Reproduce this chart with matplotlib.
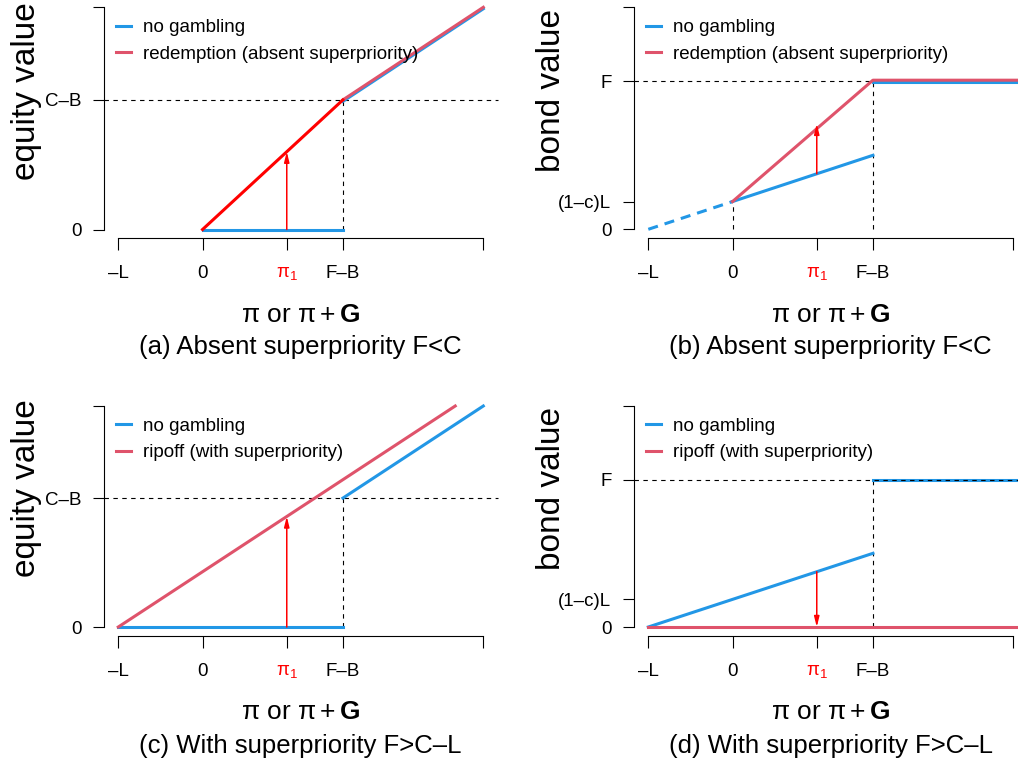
import matplotlib
matplotlib.use("Agg")
import matplotlib.pyplot as plt
from matplotlib.patches import FancyArrowPatch

plt.rcParams['font.family'] = ['Liberation Sans', 'DejaVu Sans']
plt.rcParams['mathtext.fontset'] = 'custom'
plt.rcParams['mathtext.rm'] = 'Liberation Sans'
plt.rcParams['mathtext.it'] = 'Liberation Sans:italic'
plt.rcParams['mathtext.bf'] = 'Liberation Sans:bold'

BLUE = '#2297E6'
PINK = '#DF536B'
RED = '#FF0000'

# ---- data ----
x_ticks = [-3, 0, 3, 5, 10]
x_ticklabels = ['\u2013L', '0', r'$\mathrm{\pi}_1$', 'F\u2013B', '']
x_min, x_max = -3, 10
y_min, y_max = 0, 12
pi1 = 3
FB = 5
CB = 7          # C-B
Fv = 8          # F
rec = 1.5       # (1-c)L

eq_yticks = [0, CB, 12]
eq_yticklabels = ['0', 'C\u2013B', '']
bd_yticks = [0, rec, Fv, 12]
bd_yticklabels = ['0', '(1\u2013c)L', 'F', '']

# panel a
a_blue1_x, a_blue1_y = [0, 5], [0, 0]
a_blue2_x, a_blue2_y = [5, 10], [6.92, 11.92]
a_red1_x, a_red1_y = [0, 5], [0, 7]
a_red2_x, a_red2_y = [5, 10], [7, 12]
a_arrow = (0, 4.2)

# panel b
b_blue_dash_x, b_blue_dash_y = [-3, 0], [0, 1.5]
b_blue1_x, b_blue1_y = [0, 5], [1.5, 4]
b_blue2_x, b_blue2_y = [5, 10.6], [7.94, 7.94]
b_red_x, b_red_y = [0, 5, 10.6], [1.5, 8.06, 8.06]
b_arrow = (3, 5.7)

# panel c
c_blue1_x, c_blue1_y = [-3, 5], [0, 0]
c_blue2_x, c_blue2_y = [5, 10], [7, 12]
c_red_x, c_red_y = [-3, 9], [0, 12]
c_arrow = (0, 6)

# panel d
d_blue1_x, d_blue1_y = [-3, 5], [0, 4]
d_blue2_x, d_blue2_y = [5, 10.6], [8, 8]
d_red_x, d_red_y = [-3, 10.6], [0, 0]
d_arrow = (3, 0)

W, H = 1018, 765
fig = plt.figure(figsize=(W / 100, H / 100), dpi=100)

LW = 2.2
PADX = 0.04 * (x_max - x_min)
PADY = 0.04 * (y_max - y_min)


def make_axes(px_xm3, px_x10, px_y0, px_y12):
    pxu = (px_x10 - px_xm3) / (x_max - x_min)
    pyu = (px_y0 - px_y12) / (y_max - y_min)
    left = px_xm3 - PADX * pxu
    right = px_x10 + PADX * pxu
    top = px_y12 - PADY * pyu
    bottom = px_y0 + PADY * pyu
    ax = fig.add_axes([left / W, 1 - bottom / H, (right - left) / W, (bottom - top) / H])
    ax.set_xlim(x_min - PADX, x_max + PADX)
    ax.set_ylim(y_min - PADY, y_max + PADY)
    for s in ['top', 'right']:
        ax.spines[s].set_visible(False)
    ax.spines['left'].set_bounds(y_min, y_max)
    ax.spines['bottom'].set_bounds(x_min, x_max)
    for s in ['left', 'bottom']:
        ax.spines[s].set_linewidth(0.8)
    ax.patch.set_visible(False)
    ax.set_xticks(x_ticks)
    ax.set_xticklabels(x_ticklabels, fontsize=13.5)
    ax.tick_params(axis='x', direction='out', length=8.5, width=0.8, pad=11)
    ax.tick_params(axis='y', direction='out', length=8, width=0.8, pad=8)
    tl = ax.get_xticklabels()
    tl[2].set_color(RED)
    ax.get_xticklines()[4].set_color(RED)
    return ax


def hdash(ax, y, x0, x1, z=1):
    ax.plot([x0, x1], [y, y], color='black', lw=0.8, ls=(0, (4, 4)), zorder=z, clip_on=False)


def vdash(ax, x, y0, y1, z=1):
    ax.plot([x, x], [y0, y1], color='black', lw=0.8, ls=(0, (4, 4)), zorder=z)


def arrow(ax, x, y0, y1):
    ar = FancyArrowPatch((x, y0), (x, y1), arrowstyle='-|>,head_length=0.6,head_width=0.15',
                         mutation_scale=10, color=RED, lw=1.1, shrinkA=0, shrinkB=0, zorder=5)
    ax.add_patch(ar)


def legend(ax, labels):
    h1, = ax.plot([], [], color=BLUE, lw=LW)
    h2, = ax.plot([], [], color=PINK, lw=LW)
    ax.legend([h1, h2], labels, loc='upper left', bbox_to_anchor=(0.03, 0.913),
              frameon=False, fontsize=13.5, handlelength=0.85, handletextpad=0.6,
              labelspacing=0.48, borderpad=0, borderaxespad=0)


def texts(ax_cx, ylab, ylab_x, ylab_y, xlab_base, cap, cap_base):
    fig.text(ylab_x / W, 1 - ylab_y / H, ylab, rotation=90, fontsize=24,
             ha='center', va='center')
    fig.text(ax_cx / W, 1 - xlab_base / H, r'$\mathrm{\pi}$ or $\mathrm{\pi} + \mathbf{G}$',
             fontsize=19, ha='center', va='baseline')
    fig.text(ax_cx / W, 1 - cap_base / H, cap, fontsize=18.5, ha='center', va='baseline')


# ---------- panel a ----------
ax = make_axes(118.3, 483.3, 229.5, 7.3)
ax.set_yticks(eq_yticks)
ax.set_yticklabels(eq_yticklabels, fontsize=13.5)
hdash(ax, CB, x_min - PADX, x_max + PADX)
vdash(ax, FB, 0, CB)
ax.plot(a_blue1_x, a_blue1_y, color=BLUE, lw=LW, zorder=3)
ax.plot(a_blue2_x, a_blue2_y, color=BLUE, lw=LW, zorder=3)
ax.plot(a_red2_x, a_red2_y, color=PINK, lw=LW, zorder=4)
ax.plot(a_red1_x, a_red1_y, color=RED, lw=LW, zorder=4)
arrow(ax, pi1, a_arrow[0], a_arrow[1])
legend(ax, ['no gambling', 'redemption (absent superpriority)'])
texts(300.5, 'equity value', 26.5, 91, 321.5, '(a) Absent superpriority F<C', 354)

# ---------- panel b ----------
ax = make_axes(648.3, 1013.3, 229.3, 7.3)
ax.set_yticks(bd_yticks)
ax.set_yticklabels(bd_yticklabels, fontsize=13.5)
hdash(ax, Fv, x_min - PADX, FB)
vdash(ax, 0, 0, rec)
vdash(ax, FB, 0, Fv)
ax.plot(b_blue_dash_x, b_blue_dash_y, color=BLUE, lw=LW, ls=(0, (3.3, 2.3)), zorder=3)
ax.plot(b_blue1_x, b_blue1_y, color=BLUE, lw=LW, zorder=3)
ax.plot(b_blue2_x, b_blue2_y, color=BLUE, lw=LW, zorder=3)
ax.plot(b_red_x, b_red_y, color=PINK, lw=LW, zorder=4)
arrow(ax, pi1, 3.0, b_arrow[1])
legend(ax, ['no gambling', 'redemption (absent superpriority)'])
texts(830.8, 'bond value', 552, 91, 321.5, '(b) Absent superpriority F<C', 354)

# ---------- panel c ----------
ax = make_axes(118.3, 483.3, 627, 406)
ax.set_yticks(eq_yticks)
ax.set_yticklabels(eq_yticklabels, fontsize=13.5)
hdash(ax, CB, x_min - PADX, x_max + PADX)
vdash(ax, FB, 0, CB)
ax.plot(c_blue1_x, c_blue1_y, color=BLUE, lw=LW, zorder=3)
ax.plot(c_blue2_x, c_blue2_y, color=BLUE, lw=LW, zorder=3)
ax.plot(c_red_x, c_red_y, color=PINK, lw=LW, zorder=4)
arrow(ax, pi1, c_arrow[0], c_arrow[1])
legend(ax, ['no gambling', 'ripoff (with superpriority)'])
texts(300.5, 'equity value', 26.5, 488.5, 719.3, '(c) With superpriority F>C\u2013L', 752.5)

# ---------- panel d ----------
ax = make_axes(648.3, 1013.3, 627, 406)
ax.set_yticks(bd_yticks)
ax.set_yticklabels(bd_yticklabels, fontsize=13.5)
vdash(ax, FB, 0, Fv)
ax.plot(d_blue1_x, d_blue1_y, color=BLUE, lw=LW, zorder=3)
ax.plot(d_blue2_x, d_blue2_y, color=BLUE, lw=LW, zorder=3)
ax.plot(d_red_x, d_red_y, color=PINK, lw=LW, zorder=4)
hdash(ax, Fv, x_min - PADX, x_max + PADX, z=6)
arrow(ax, pi1, 3.0, d_arrow[1])
legend(ax, ['no gambling', 'ripoff (with superpriority)'])
texts(830.8, 'bond value', 552, 488.5, 719.3, '(d) With superpriority F>C\u2013L', 752.5)

fig.savefig('out.png', dpi=100)
